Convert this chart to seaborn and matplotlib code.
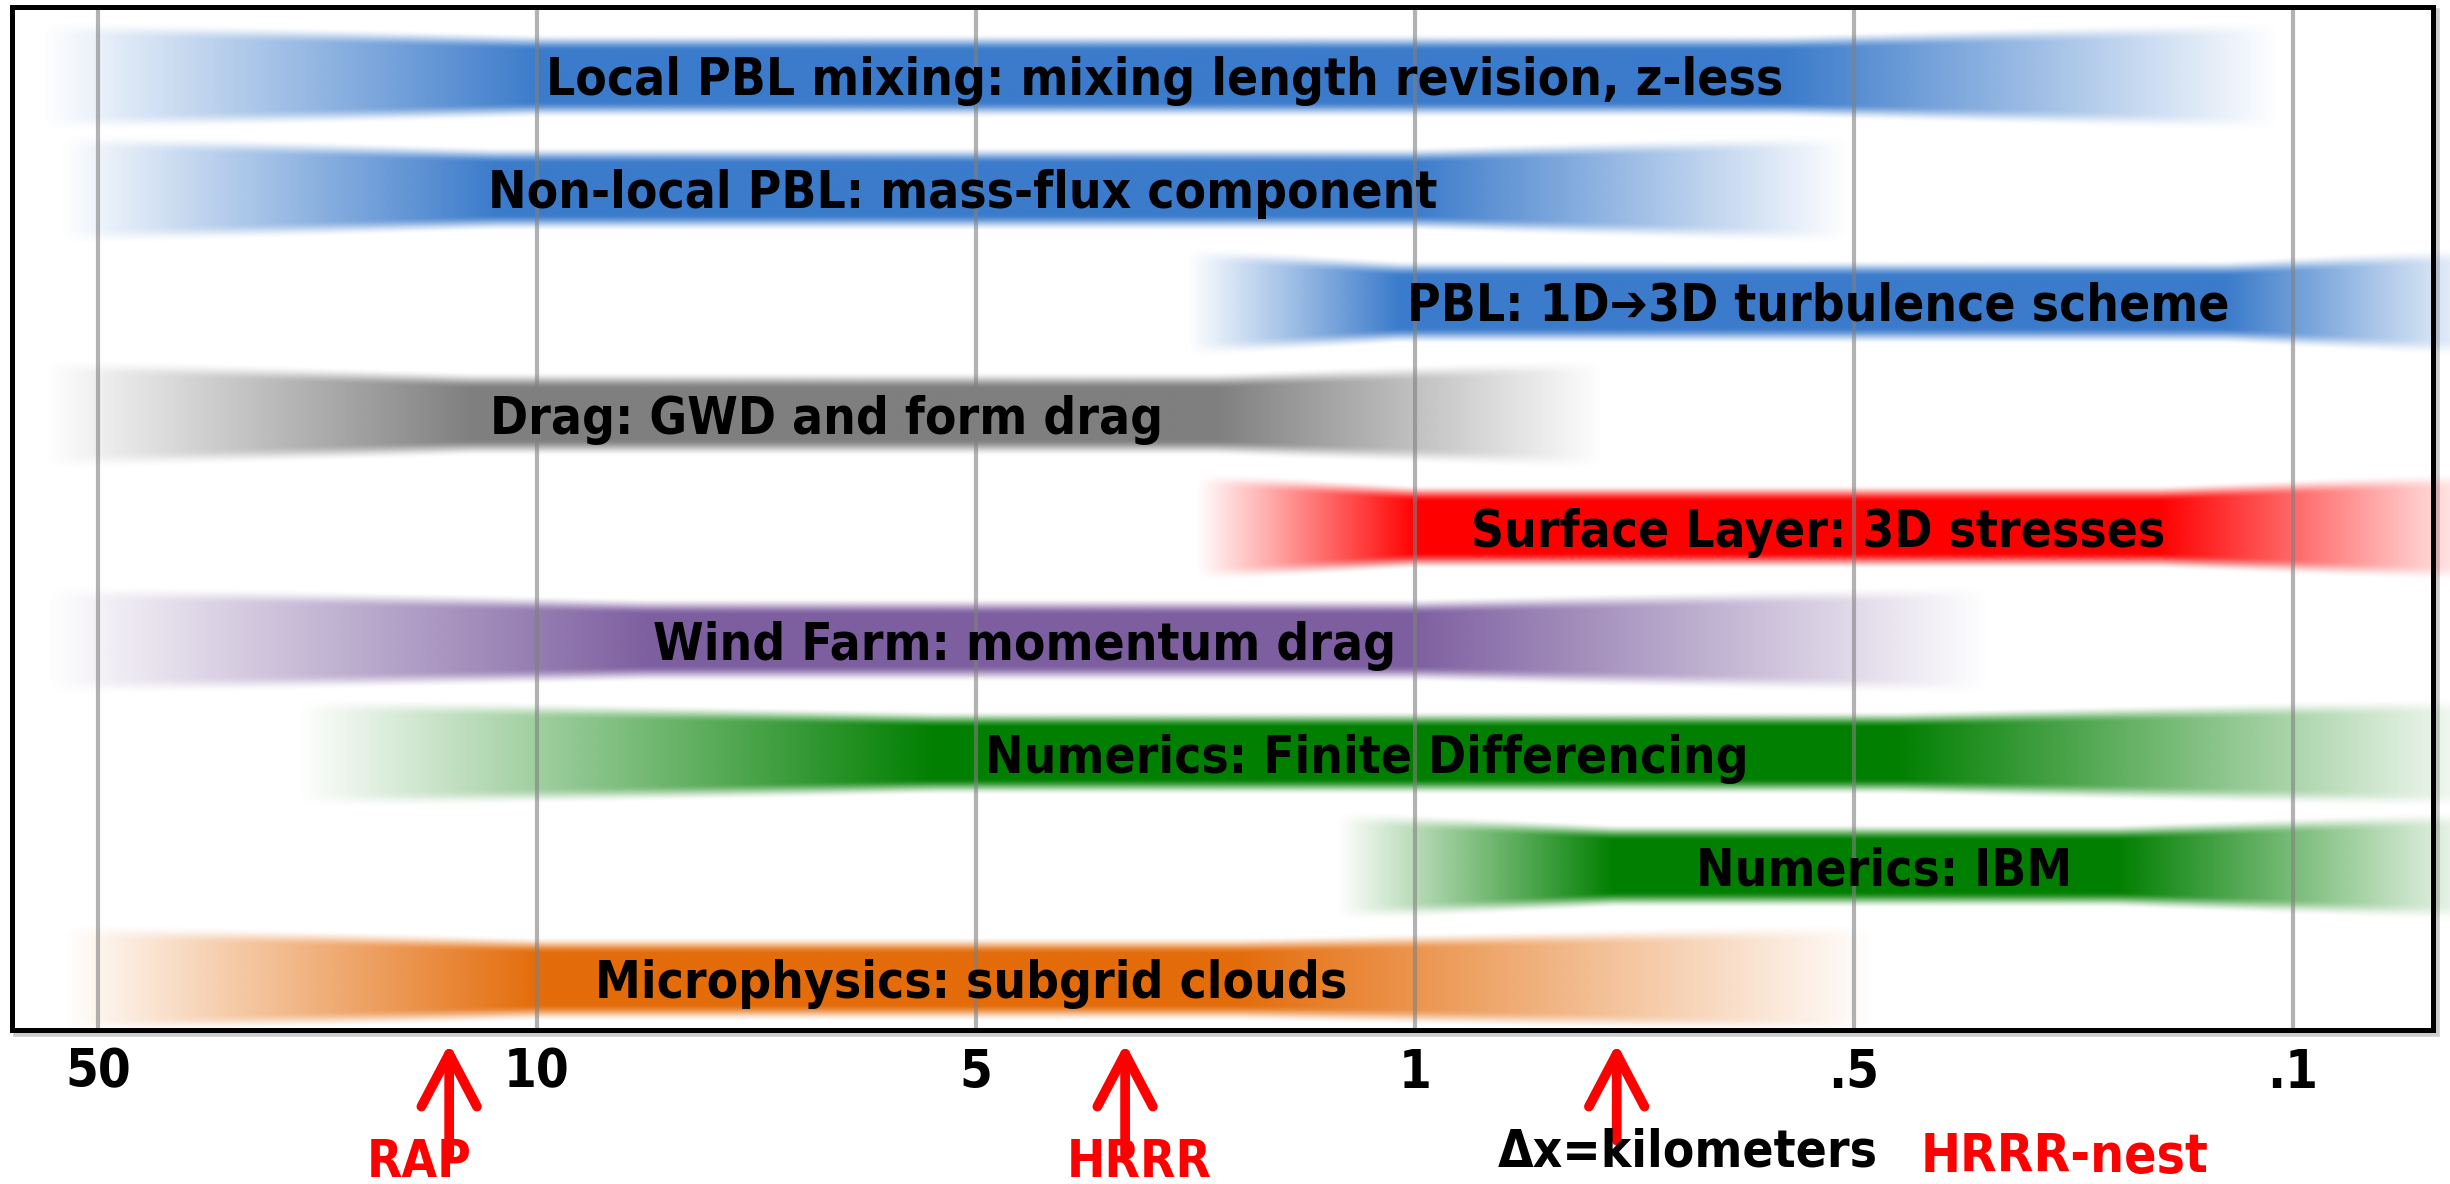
import numpy as np
import matplotlib
matplotlib.use("Agg")
import matplotlib.pyplot as plt
import matplotlib.font_manager as fm
import seaborn as sns
from matplotlib.patches import Rectangle

# grid spacing in km (evenly spaced positions on the axis)
tick_labels = ["50", "10", "5", "1", ".5", ".1"]

labels = [
    "Local PBL mixing: mixing length revision, z-less",
    "Non-local PBL: mass-flux component",
    "PBL: 1D\u27943D turbulence scheme",
    "Drag: GWD and form drag",
    "Surface Layer: 3D stresses",
    "Wind Farm: momentum drag",
    "Numerics: Finite Differencing",
    "Numerics: IBM",
    "Microphysics: subgrid clouds",
]
band_colors = ["#3b7bcb", "#3b7bcb", "#3b7bcb", "#7f7f7f", "#ff0000",
               "#7d5fa0", "#007f00", "#007f00", "#e46c0a"]
# where each band fades in, becomes solid, stops being solid, fades out
# (in units of the tick positions: 0 = 50 km ... 5 = 0.1 km)
band_start = [-0.13, -0.09, 2.48, -0.12, 2.50, -0.12, 0.45, 2.82, -0.08]
band_full_from = [1.00, 0.90, 2.96, 0.85, 3.00, 1.25, 1.90, 3.45, 1.00]
band_full_to = [3.85, 3.00, 4.85, 2.55, 4.70, 3.00, 4.10, 4.60, 2.60]
band_end = [4.97, 3.99, 5.45, 3.43, 5.45, 4.31, 5.45, 5.45, 4.05]
label_x = [2.43, 1.97, 3.92, 1.66, 3.92, 2.11, 2.89, 4.07, 1.99]

models = ["RAP", "HRRR", "HRRR-nest"]
model_x = [0.80, 2.34, 3.46]

sns.set_theme(style="white")

# pick the narrowest bold face available (the original uses a condensed font)
names = {f.name for f in fm.fontManager.ttflist}
condensed = [f for f in fm.fontManager.ttflist
             if f.name == "DejaVu Sans" and "condensed" in str(f.stretch)]
if "Liberation Sans Narrow" in names:
    plt.rcParams['font.family'] = ['Liberation Sans Narrow', 'DejaVu Sans']
    stretch, scale = "normal", 1.0
elif condensed:
    plt.rcParams['font.family'] = ['DejaVu Sans']
    stretch, scale = "condensed", 0.92
else:
    plt.rcParams['font.family'] = ['DejaVu Sans']
    stretch, scale = "normal", 0.825
fs = 40 * scale

fig = plt.figure(figsize=(24.5, 11.84), dpi=100)
ax = fig.add_axes([0.0049, 0.130, 0.9882, 0.864])

h_end, h_mid, blur = 0.86, 0.60, 0.15
for row, col in enumerate(band_colors):
    x0, x1, x2, x3 = band_start[row], band_full_from[row], band_full_to[row], band_end[row]
    xs = np.linspace(x0, x3, 700)
    ys = np.linspace(row - 0.6, row + 0.6, 240)
    half = np.interp(xs, [x0, x1, x2, x3], [h_end / 2, h_mid / 2, h_mid / 2, h_end / 2])
    a_h = np.interp(xs, [x0, x1, x2, x3], [0, 1, 1, 0])
    d = np.abs(ys[:, None] - row)
    t = np.clip((half[None, :] - d) / blur + 0.5, 0, 1)
    a_v = t * t * (3 - 2 * t)
    rgba = np.zeros((len(ys), len(xs), 4))
    rgba[..., :3] = matplotlib.colors.to_rgb(col)
    rgba[..., 3] = a_v * a_h[None, :]
    im = ax.imshow(rgba, extent=[x0, x3, row + 0.6, row - 0.6], origin="upper",
                   aspect="auto", interpolation="bilinear", zorder=1)
    im.set_clip_on(False)
    ax.text(label_x[row], row + 0.17, labels[row], ha="center", va="baseline",
            fontsize=fs, fontweight="bold", fontstretch=stretch, color="black", zorder=4)

for i in range(len(tick_labels)):
    ax.axvline(i, color="#808080", alpha=0.6, lw=3, zorder=2)

ax.set_xlim(-0.196, 5.32)
ax.set_ylim(8.45, -0.61)
ax.set_xticks(range(len(tick_labels)))
ax.set_xticklabels(tick_labels, fontsize=fs * 1.03, fontweight="bold", fontstretch=stretch,
                   color="black")
ax.set_yticks([])
ax.tick_params(axis="x", length=0, pad=12)
for s in ax.spines.values():
    s.set_linewidth(3.6)
    s.set_color("black")
    s.set_zorder(5)

# soft shadow of the frame
pos = ax.get_position()
fig.add_artist(Rectangle((pos.x0 + 0.0016, pos.y0 - 0.0034), pos.width, pos.height,
                         transform=fig.transFigure, fc="none", ec="#9a9a9a",
                         lw=4, alpha=0.5, zorder=-1))

# model resolution arrows
tails = [-0.122, -0.122, -0.108]
for x, tail in zip(model_x, tails):
    ax.annotate("", xy=(x, -0.013), xytext=(x, tail),
                xycoords=("data", "axes fraction"), textcoords=("data", "axes fraction"),
                arrowprops=dict(arrowstyle="->,head_length=0.95,head_width=0.5",
                                color="red", lw=7, mutation_scale=40,
                                shrinkA=0, shrinkB=0, capstyle="round", joinstyle="round"),
                annotation_clip=False)

tx = ("data", "axes fraction")
kw = dict(xycoords=tx, ha="left", va="baseline", fontweight="bold",
          fontstretch=stretch, annotation_clip=False)
ax.annotate(models[0], xy=(0.613, -0.144), fontsize=fs, color="red", **kw)
ax.annotate(models[1], xy=(2.206, -0.144), fontsize=fs, color="red", **kw)
ax.annotate("\u0394x=kilometers", xy=(3.19, -0.133), fontsize=fs, color="black", **kw)
ax.annotate(models[2], xy=(4.152, -0.139), fontsize=fs * 1.04, color="red", **kw)

fig.savefig("out.png", dpi=100)
